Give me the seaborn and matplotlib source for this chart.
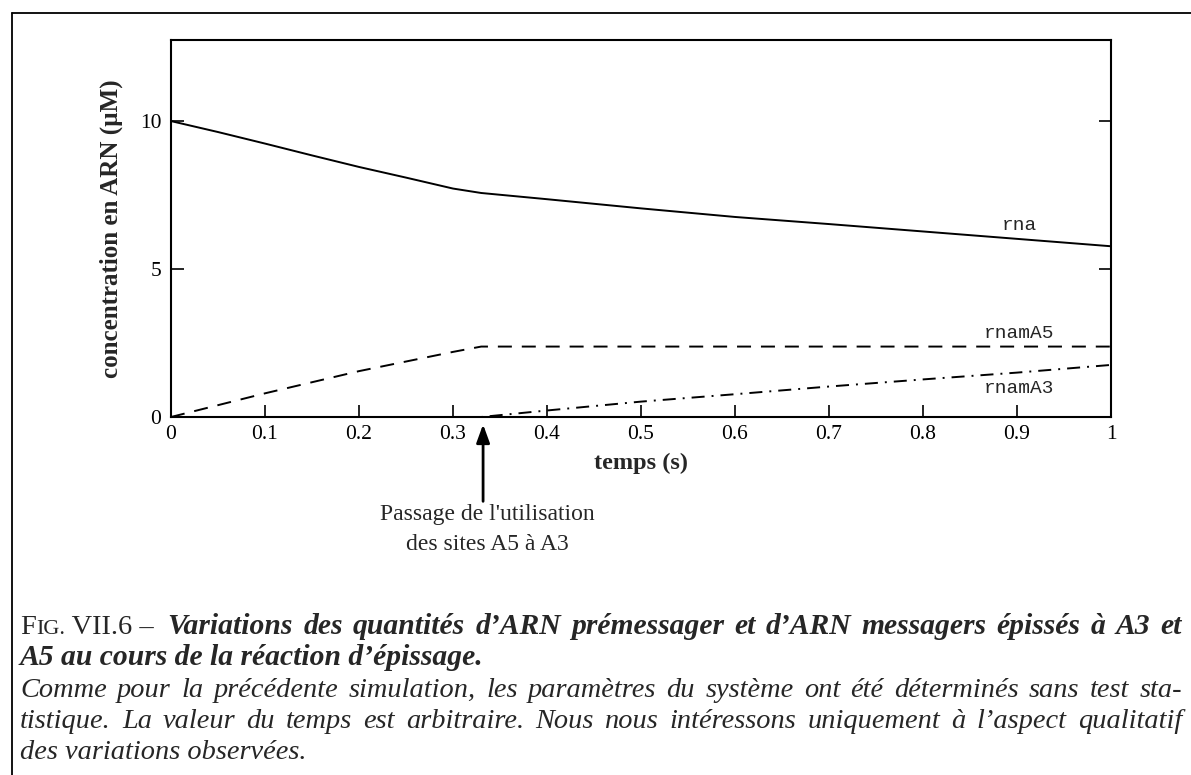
import numpy as np
import pandas as pd
import matplotlib
matplotlib.use('Agg')
import matplotlib.pyplot as plt
import matplotlib.transforms as mtransforms
from matplotlib.lines import Line2D
import seaborn as sns

# valeurs
series = ['rna', 'rnamA5', 'rnamA3']
t_rna = [0, 0.05, 0.1, 0.15, 0.2, 0.25, 0.3, 0.33, 0.4, 0.5, 0.6, 0.7, 0.8, 0.9, 1.0]
rna = [10, 9.63, 9.24, 8.84, 8.45, 8.09, 7.72, 7.57, 7.36, 7.05, 6.76, 6.52, 6.27, 6.02, 5.77]
t_a5 = [0, 0.1, 0.2, 0.3, 0.33, 0.4, 0.6, 0.8, 1.0]
a5 = [0, 0.8, 1.55, 2.2, 2.38, 2.38, 2.38, 2.38, 2.38]
t_a3 = [0, 0.33, 0.4, 0.5, 0.6, 0.7, 0.8, 0.9, 1.0]
a3 = [0, 0, 0.22, 0.52, 0.77, 1.03, 1.27, 1.5, 1.76]
xticks = [0, 0.1, 0.2, 0.3, 0.4, 0.5, 0.6, 0.7, 0.8, 0.9, 1]
xticklabels = ['0', '0.1', '0.2', '0.3', '0.4', '0.5', '0.6', '0.7', '0.8', '0.9', '1']
yticks = [0, 5, 10]

df = pd.concat([
    pd.DataFrame({'t': t_rna, 'c': rna, 'serie': 'rna'}),
    pd.DataFrame({'t': t_a5, 'c': a5, 'serie': 'rnamA5'}),
    pd.DataFrame({'t': t_a3, 'c': a3, 'serie': 'rnamA3'}),
])

sns.set_style('ticks')
plt.rcParams['font.family'] = ['Liberation Serif', 'DejaVu Serif']

W, H = 1191, 775
fig = plt.figure(figsize=(W / 100, H / 100), dpi=100)
ax = fig.add_axes([171 / W, 1 - 417 / H, (1111 - 171) / W, (417 - 40) / H])

lw = 1.4
sns.lineplot(data=df, x='t', y='c', style='serie', color='black', lw=lw,
             dashes={'rna': '', 'rnamA5': (7.2, 5.1), 'rnamA3': (6.7, 3.6, 1, 3.6)},
             legend=False, ax=ax)

ax.set_xlim(0, 1)
ax.set_ylim(0, 12.74)
ax.set_xticks(xticks)
ax.set_xticklabels(xticklabels)
ax.set_yticks(yticks)
ax.tick_params(direction='in', length=9, width=1.2, right=True, top=False,
               labelsize=15.5, colors='black')
ax.tick_params(axis='x', pad=6)
ax.tick_params(axis='y', pad=7)
for s in ax.spines.values():
    s.set_visible(True)
    s.set_linewidth(1.5)
    s.set_color('black')

ax.set_xlabel('temps (s)', fontsize=17.5, fontweight='bold', labelpad=6)
ax.set_ylabel('concentration en ARN (µM)', fontsize=18, fontweight='bold', labelpad=12)

# étiquettes des courbes
lab_y = [6.46, 2.82, 0.97]
for name, yv in zip(series, lab_y):
    ax.text(0.902, yv, name, family='Liberation Mono', fontsize=14, ha='center', va='center')

# flèche
ax.annotate('', xy=(0.332, -0.25), xytext=(0.332, -2.85), xycoords='data',
            annotation_clip=False,
            arrowprops=dict(arrowstyle='-|>,head_length=1.1,head_width=0.4',
                            color='black', lw=2, shrinkA=0, shrinkB=0))
tr = mtransforms.blended_transform_factory(ax.transData, fig.transFigure)
ax.text(0.337, 1 - 520 / H, "Passage de l'utilisation", transform=tr,
        ha='center', va='baseline', fontsize=17)
ax.text(0.337, 1 - 550 / H, "des sites A5 à A3", transform=tr,
        ha='center', va='baseline', fontsize=17)

# cadre extérieur
fig.add_artist(Line2D([12 / W, 12 / W], [0, 1 - 13 / H], color='black', lw=1.3))
fig.add_artist(Line2D([12 / W, 1], [1 - 13 / H, 1 - 13 / H], color='black', lw=1.3))

# légende de la figure (texte justifié mot à mot)
renderer = fig.canvas.get_renderer()


def put(x, ybase, s, **kw):
    t = fig.text(x / W, 1 - ybase / H, s, va='baseline', **kw)
    return t.get_window_extent(renderer).x1


def width(s, **kw):
    t = fig.text(0, 0, s, **kw)
    w = t.get_window_extent(renderer).width
    t.remove()
    return w


def justify(line, x_start, x_end, ybase, **kw):
    words = line.split(' ')
    ws = [width(w, **kw) for w in words]
    gap = (x_end - x_start - sum(ws)) / (len(words) - 1)
    x = x_start
    for w, wd in zip(words, ws):
        put(x, ybase, w, **kw)
        x += wd + gap


x0, right = 20, 1182
l1 = 'Variations des quantités d’ARN prémessager et d’ARN messagers épissés à A3 et'
l2 = 'A5 au cours de la réaction d’épissage.'
l3 = 'Comme pour la précédente simulation, les paramètres du système ont été déterminés sans test sta-'
l4 = 'tistique. La valeur du temps est arbitraire. Nous nous intéressons uniquement à l’aspect qualitatif'
l5 = 'des variations observées.'

fit3 = 10 * (right - x0) / width(l3, fontsize=10, style='italic')
fit4 = 10 * (right - x0) / width(l4, fontsize=10, style='italic')
fs = 0.96 * min(fit3, fit4)
it = dict(fontsize=fs, style='italic')

# FIG. VII.6 – en petites capitales
x = put(x0, 634, 'F', fontsize=fs)
x = put(x, 634, 'IG.', fontsize=fs * 0.78)
x = put(x, 634, ' VII.6 –', fontsize=fs)
xb = x + 14
fit1 = 10 * (right - xb) / width(l1, fontsize=10, style='italic', weight='bold')
bi = dict(fontsize=0.97 * fit1, style='italic', weight='bold')

justify(l1, xb, right, 634, **bi)
put(x0, 665, l2, **bi)
justify(l3, x0, right, 697, **it)
justify(l4, x0, right, 728, **it)
put(x0, 759, l5, **it)

fig.savefig('out.png', dpi=100)
